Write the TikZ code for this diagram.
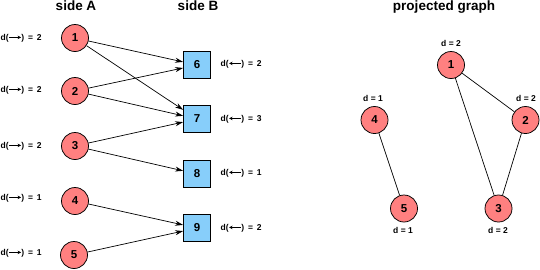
\documentclass[tikz,border=0pt]{standalone}
\usepackage{fontspec}
\setmainfont{Liberation Sans}
\usetikzlibrary{arrows.meta}
\definecolor{nodered}{RGB}{255,128,128}
\definecolor{nodeblue}{RGB}{135,206,250}
\newcommand{\rarr}{\tikz[baseline=-2.8pt]\draw[line width=0.7pt,-{Stealth[length=3.5pt,width=3.5pt]}] (0pt,0pt)--(12pt,0pt);}
\newcommand{\larr}{\tikz[baseline=-2.8pt]\draw[line width=0.7pt,{Stealth[length=3.5pt,width=3.5pt]}-] (0pt,0pt)--(12pt,0pt);}
\tikzset{
  anode/.style={circle,draw=black,line width=0.75pt,fill=nodered,minimum size=27pt,inner sep=0pt,font=\fontsize{11.5}{12}\selectfont\bfseries},
  bnode/.style={rectangle,draw=black,line width=0.75pt,fill=nodeblue,minimum size=27pt,inner sep=0pt,font=\fontsize{11.5}{12}\selectfont\bfseries},
  lab/.style={inner sep=0pt,font=\fontsize{8.5}{10}\selectfont\bfseries},
  title/.style={inner sep=0pt,font=\fontsize{13.5}{15}\selectfont\bfseries},
  arr/.style={line width=0.7pt,-{Stealth[length=8pt,width=5pt]}},
  edge/.style={line width=0.7pt}
}
\begin{document}
\begin{tikzpicture}[x=1pt,y=-1pt]
\useasboundingbox (0,0) rectangle (540,269);
% titles
\node[title] (tA) at (76,6) {side A};
\node[title] (tB) at (198,6) {side B};
\node[title] (tP) at (444,7) {projected graph};
% side A
\node[anode] (a1) at (75,38) {1};
\node[anode] (a2) at (75,91) {2};
\node[anode] (a3) at (75,146) {3};
\node[anode] (a4) at (75,201) {4};
\node[anode] (a5) at (74,255) {5};
% side B
\node[bnode] (b6) at (197,65) {6};
\node[bnode] (b7) at (197,119) {7};
\node[bnode] (b8) at (197,174) {8};
\node[bnode] (b9) at (197,228) {9};
% left labels
\node[lab,anchor=west] (la1) at (0.5,38) {d(\rarr) \,=\, 2};
\node[lab,anchor=west] (la2) at (0.5,90) {d(\rarr) \,=\, 2};
\node[lab,anchor=west] (la3) at (0.5,146) {d(\rarr) \,=\, 2};
\node[lab,anchor=west] (la4) at (0.5,198) {d(\rarr) \,=\, 1};
\node[lab,anchor=west] (la5) at (0.5,253) {d(\rarr) \,=\, 1};
% right labels
\node[lab,anchor=west] (lb6) at (220.5,64) {d(\larr) \,=\, 2};
\node[lab,anchor=west] (lb7) at (220.5,119) {d(\larr) \,=\, 3};
\node[lab,anchor=west] (lb8) at (220.5,173) {d(\larr) \,=\, 1};
\node[lab,anchor=west] (lb9) at (220.5,228) {d(\larr) \,=\, 2};
% bipartite edges
\draw[arr] (a1) -- (b6);
\draw[arr] (a1) -- (b7);
\draw[arr] (a2) -- (b6);
\draw[arr] (a2) -- (b7);
\draw[arr] (a3) -- (b7);
\draw[arr] (a3) -- (b8);
\draw[arr] (a4) -- (b9);
\draw[arr] (a5) -- (b9);
% projected graph
\node[anode] (p1) at (451,65) {1};
\node[anode] (p2) at (525.5,120) {2};
\node[anode] (p3) at (498.5,208.5) {3};
\node[anode] (p4) at (374.5,120) {4};
\node[anode] (p5) at (404,208.5) {5};
\node[lab] (d1) at (451,43) {d = 2};
\node[lab] (d2) at (526,98) {d = 2};
\node[lab] (d4) at (373,98) {d = 1};
\node[lab] (d5) at (403,230.5) {d = 1};
\node[lab] (d3) at (498,230.5) {d = 2};
\draw[edge] (p1) -- (p2);
\draw[edge] (p1) -- (p3);
\draw[edge] (p2) -- (p3);
\draw[edge] (p4) -- (p5);
\end{tikzpicture}
\end{document}
